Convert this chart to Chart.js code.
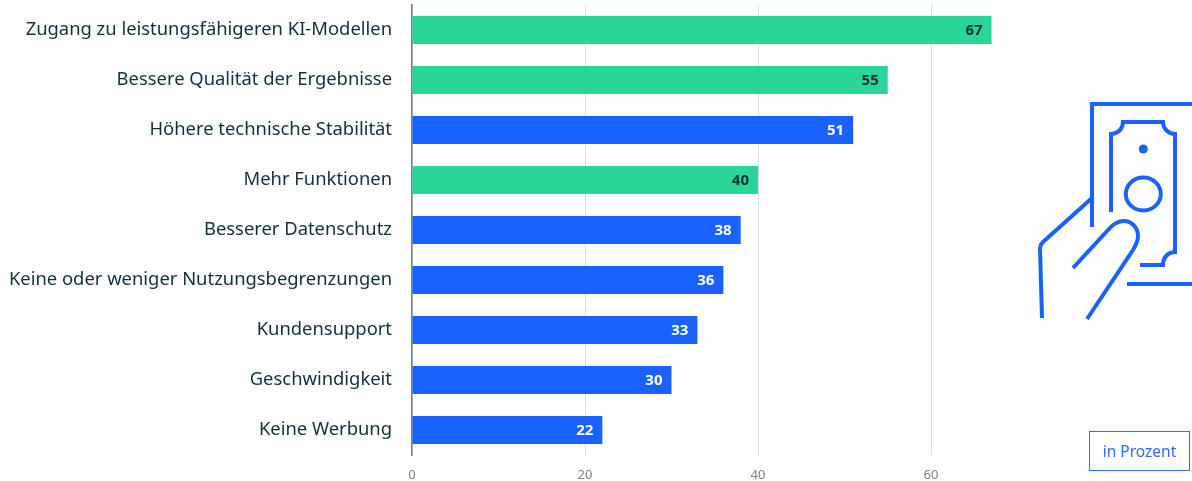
<!DOCTYPE html>
<html lang="de">
<head>
<meta charset="utf-8">
<style>
html,body{margin:0;padding:0;background:#fff;}
#wrap{position:relative;width:1192px;height:481px;overflow:hidden;}
canvas{position:absolute;left:0;top:0;}
svg{position:absolute;left:0;top:0;pointer-events:none;}
#unit{position:absolute;left:1089px;top:431px;width:99px;height:38px;border:1.5px solid #2f6bff;color:#2f6bff;font:15.5px "Noto Sans",sans-serif;display:flex;align-items:center;justify-content:center;box-sizing:content-box;}
</style>
</head>
<body>
<div id="wrap">
<canvas id="c" width="1192" height="481"></canvas>
<svg width="1192" height="481" viewBox="0 0 1192 481" fill="none" stroke="#1a62ff" stroke-width="4">
<path d="M1092 227V104H1192"/>
<path d="M1127 284H1192"/>
<path d="M1111 212V134A12 12 0 0 0 1123 122H1163A12 12 0 0 0 1175 134V252A12 12 0 0 0 1163 264V265H1140"/>
<circle cx="1143.3" cy="149" r="4.5" fill="#1a62ff" stroke="none"/>
<ellipse cx="1143.3" cy="194" rx="17.5" ry="16.5"/>
<path d="M1042 318L1040 248Q1040 245 1043 242L1092 198"/>
<path d="M1073 268L1108 230C1113 224 1118 221 1124 221C1132 221 1138 228 1138 236C1138 241 1136 245 1133 250L1087 319"/>
</svg>
<div id="unit">in Prozent</div>
</div>
<script src="https://cdn.jsdelivr.net/npm/chart.js@4"></script>
<script>
const categories = ["Zugang zu leistungsfähigeren KI-Modellen","Bessere Qualität der Ergebnisse","Höhere technische Stabilität","Mehr Funktionen","Besserer Datenschutz","Keine oder weniger Nutzungsbegrenzungen","Kundensupport","Geschwindigkeit","Keine Werbung"];
const values = [67,55,51,40,38,36,33,30,22];
const barColors = ["#2ad598","#2ad598","#1a62ff","#2ad598","#1a62ff","#1a62ff","#1a62ff","#1a62ff","#1a62ff"];
const valueLabelColors = ["#12303a","#12303a","#ffffff","#12303a","#ffffff","#ffffff","#ffffff","#ffffff","#ffffff"];

const valueLabels = {
  id:"valueLabels",
  afterDatasetsDraw(chart){
    const g = chart.ctx;
    g.save();
    g.font = 'bold 15px "Noto Sans", sans-serif';
    g.textAlign = "right";
    g.textBaseline = "middle";
    chart.getDatasetMeta(0).data.forEach((bar,i)=>{
      g.fillStyle = valueLabelColors[i];
      g.fillText(String(values[i]), bar.x - 9, bar.y + 0.5);
    });
    g.restore();
  }
};

new Chart(document.getElementById("c"),{
  type:"bar",
  data:{labels:categories,datasets:[{data:values,backgroundColor:barColors,barPercentage:0.56,categoryPercentage:1}]},
  options:{
    indexAxis:"y",
    responsive:false,
    animation:false,
    layout:{padding:{top:5,right:174.5,left:0,bottom:0}},
    plugins:{legend:{display:false},tooltip:{enabled:false}},
    scales:{
      x:{
        type:"linear",min:0,max:70,
        afterFit(s){s.height=26;s.paddingLeft=0;s.paddingRight=0;},
        border:{display:false},
        grid:{color:"#dcdcdc",lineWidth:1,drawTicks:false},
        ticks:{stepSize:20,includeBounds:false,maxRotation:0,padding:12,color:"#808080",font:{family:'"Noto Sans", sans-serif',size:13}}
      },
      y:{
        afterFit(s){s.width=412;s.paddingTop=0;s.paddingBottom=0;},
        border:{display:true,color:"#6f7f85",width:1.5},
        grid:{display:false,drawTicks:false},
        ticks:{padding:20,color:"#12303a",autoSkip:false,font:{family:'"Noto Sans", sans-serif',size:18.4}}
      }
    }
  },
  plugins:[valueLabels]
});
</script>
</body>
</html>
